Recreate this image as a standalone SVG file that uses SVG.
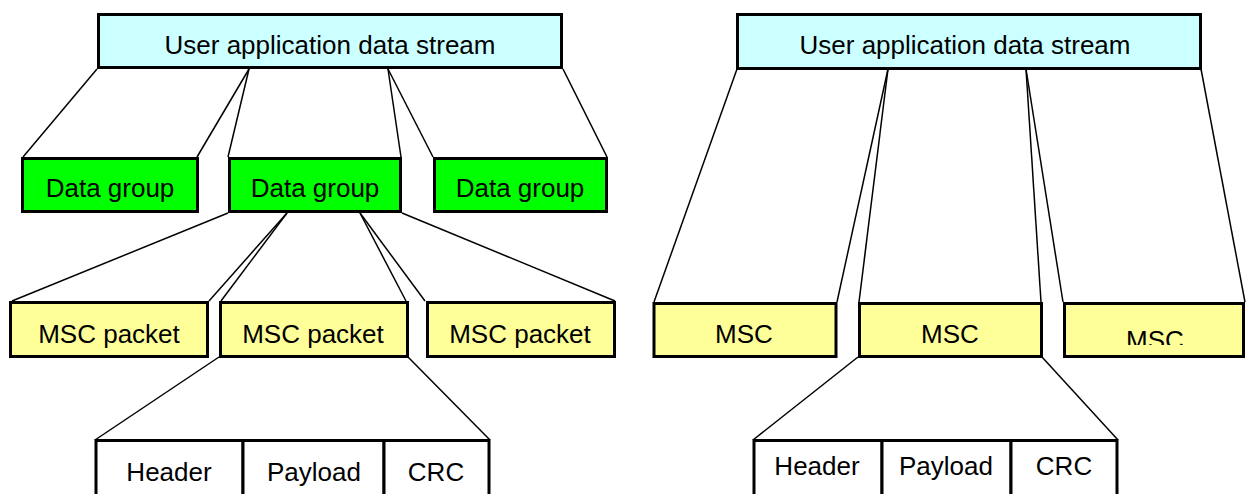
<svg xmlns="http://www.w3.org/2000/svg" width="1246" height="494" viewBox="0 0 1246 494">
  <style>
    .box { stroke: #000; stroke-width: 3; }
    .stream { fill: #CCFFFF; }
    .group { fill: #00FF00; }
    .msc { fill: #FFFF99; }
    .cell { fill: #FFFFFF; }
    .lbl { font-family: "Liberation Sans", Arial, sans-serif; font-size: 26px; fill: #000; text-anchor: middle; }
    .con line { stroke: #000; stroke-width: 1.5; }
  </style>
  <defs>
    <clipPath id="clipMsc3">
      <rect x="1060" y="300" width="190" height="45"/>
    </clipPath>
  </defs>
  <rect width="1246" height="494" fill="#FFFFFF"/>

  <g id="connectors" class="con">
    <line x1="97" y1="69" x2="23" y2="157"/>
    <line x1="249" y1="69" x2="197" y2="157"/>
    <line x1="249" y1="69" x2="228" y2="157"/>
    <line x1="388" y1="69" x2="401" y2="157"/>
    <line x1="388" y1="69" x2="433" y2="157"/>
    <line x1="563" y1="69" x2="607" y2="157"/>
    <line x1="228" y1="213" x2="12" y2="301"/>
    <line x1="287" y1="213" x2="209" y2="301"/>
    <line x1="287" y1="213" x2="221" y2="301"/>
    <line x1="360" y1="213" x2="406" y2="301"/>
    <line x1="360" y1="213" x2="425" y2="301"/>
    <line x1="402" y1="213" x2="615" y2="301"/>
    <line x1="219" y1="357" x2="95" y2="440"/>
    <line x1="408" y1="357" x2="490" y2="440"/>
    <line x1="737" y1="69" x2="654" y2="302"/>
    <line x1="888" y1="69" x2="837" y2="302"/>
    <line x1="888" y1="69" x2="859" y2="302"/>
    <line x1="1026" y1="69" x2="1041" y2="302"/>
    <line x1="1026" y1="69" x2="1063" y2="302"/>
    <line x1="1201" y1="69" x2="1245" y2="302"/>
    <line x1="858" y1="357" x2="753" y2="440"/>
    <line x1="1042" y1="357" x2="1118" y2="440"/>
  </g>

  <g id="stream-left">
    <rect class="box stream" x="98.5" y="14.5" width="463" height="53"/>
    <text class="lbl" x="330" y="54">User application data stream</text>
  </g>
  <g id="group-1">
    <rect class="box group" x="22.5" y="158.5" width="175" height="53"/>
    <text class="lbl" x="110" y="197">Data group</text>
  </g>
  <g id="group-2">
    <rect class="box group" x="229.5" y="158.5" width="171" height="53"/>
    <text class="lbl" x="315" y="197">Data group</text>
  </g>
  <g id="group-3">
    <rect class="box group" x="434.5" y="158.5" width="172" height="53"/>
    <text class="lbl" x="520" y="197">Data group</text>
  </g>
  <g id="packet-1">
    <rect class="box msc" x="10.5" y="302.5" width="197" height="54"/>
    <text class="lbl" x="109" y="343">MSC packet</text>
  </g>
  <g id="packet-2">
    <rect class="box msc" x="220.5" y="302.5" width="187" height="54"/>
    <text class="lbl" x="313" y="343">MSC packet</text>
  </g>
  <g id="packet-3">
    <rect class="box msc" x="427.5" y="302.5" width="187" height="54"/>
    <text class="lbl" x="520" y="343">MSC packet</text>
  </g>
  <g id="fields-left">
    <rect class="box cell" x="96" y="440.5" width="147" height="60"/>
    <rect class="box cell" x="243" y="440.5" width="141" height="60"/>
    <rect class="box cell" x="384" y="440.5" width="105" height="60"/>
    <text class="lbl" x="169" y="481">Header</text>
    <text class="lbl" x="314" y="481">Payload</text>
    <text class="lbl" x="436" y="481">CRC</text>
  </g>

  <g id="stream-right">
    <rect class="box stream" x="737.5" y="14.5" width="463" height="54"/>
    <text class="lbl" x="965" y="54">User application data stream</text>
  </g>
  <g id="msc-1">
    <rect class="box msc" x="654" y="303.5" width="182" height="53"/>
    <text class="lbl" x="744" y="343">MSC</text>
  </g>
  <g id="msc-2">
    <rect class="box msc" x="859.5" y="303.5" width="182" height="53"/>
    <text class="lbl" x="950" y="343">MSC</text>
  </g>
  <g id="msc-3">
    <rect class="box msc" x="1064.5" y="303.5" width="179" height="53"/>
    <text class="lbl" x="1155" y="349" clip-path="url(#clipMsc3)">MSC</text>
  </g>
  <g id="fields-right">
    <rect class="box cell" x="754" y="440.5" width="128" height="60"/>
    <rect class="box cell" x="882" y="440.5" width="129" height="60"/>
    <rect class="box cell" x="1011" y="440.5" width="106" height="60"/>
    <text class="lbl" x="817" y="475">Header</text>
    <text class="lbl" x="946" y="475">Payload</text>
    <text class="lbl" x="1064" y="475">CRC</text>
  </g>
</svg>
